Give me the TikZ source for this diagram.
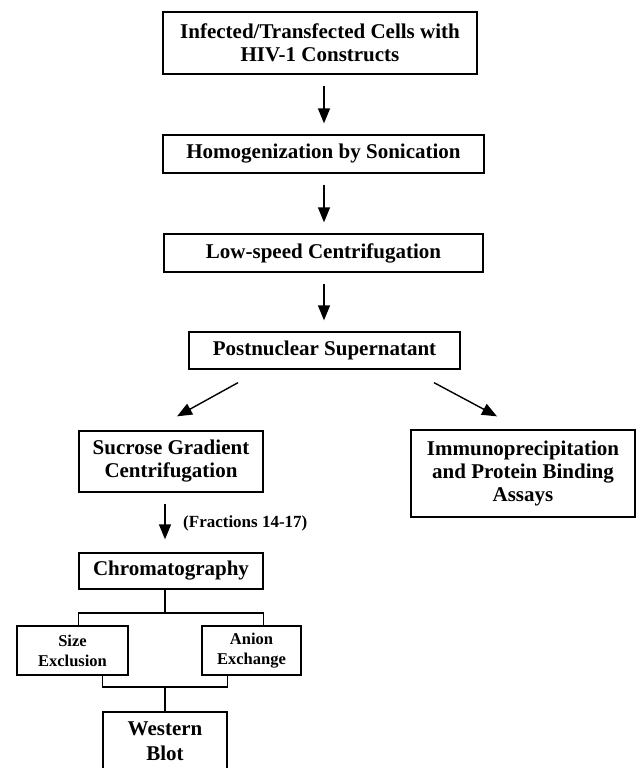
\documentclass[tikz,border=0pt]{standalone}
\usepackage{fontspec}
\setmainfont{Liberation Serif}
\usetikzlibrary{arrows.meta,calc}
\tikzset{
  box/.style={draw, line width=1.3pt, inner sep=0pt, align=center,
    font=\fontsize{21}{23}\selectfont\bfseries},
  smallbox/.style={box, font=\fontsize{16.5}{20}\selectfont\bfseries},
  arr/.style={line width=1.4pt, -{Triangle[length=15pt,width=12pt]},
    shorten <=11pt, shorten >=11pt},
  conn/.style={line width=1.1pt},
  lbl/.style={font=\fontsize{17}{20}\selectfont\bfseries, inner sep=0pt, anchor=west}
}
\begin{document}
\begin{tikzpicture}[x=1pt,y=-1pt]
\useasboundingbox (0,0) rectangle (637,768);
\clip (0,0) rectangle (637,768);
\node[box, minimum width=314pt, minimum height=62pt] (b1) at (320,43)
  {Infected/Transfected Cells with\\HIV-1 Constructs};
\node[box, minimum width=321pt, minimum height=38pt] (b2) at (323.5,154)
  {Homogenization by Sonication};
\node[box, minimum width=319pt, minimum height=38pt] (b3) at (323.5,253)
  {Low-speed Centrifugation};
\node[box, minimum width=271pt, minimum height=37pt] (b4) at (324.5,350.5)
  {Postnuclear Supernatant};
\node[box, minimum width=184pt, minimum height=61pt] (b5) at (171,461.5)
  {Sucrose Gradient\\Centrifugation};
\node[box, minimum width=224pt, minimum height=87pt] (b6) at (523,473.5)
  {Immunoprecipitation\\and Protein Binding\\Assays};
\node[box, minimum width=184pt, minimum height=36pt] (b7) at (171,571)
  {Chromatography};
\node[smallbox, minimum width=111pt, minimum height=49pt] (b8) at (72.5,650.5)
  {Size\\Exclusion};
\node[smallbox, minimum width=99pt, minimum height=49pt] (b9) at (251.5,650.5)
  {Anion\\Exchange};
\node[box, minimum width=124pt, minimum height=64pt] (b10) at (165,744)
  {};
\node[font=\fontsize{21}{25}\selectfont\bfseries, align=center, inner sep=0pt] (wt) at (165,741)
  {Western\\Blot};
\node[lbl] (frac) at (183,523) {(Fractions 14-17)};

\draw[arr] (b1.south -| 324,0) -- (b2.north -| 324,0);
\draw[arr] (b2.south -| 324,0) -- (b3.north -| 324,0);
\draw[arr] (b3.south -| 324,0) -- (b4.north -| 324,0);
\draw[arr, shorten <=0pt, shorten >=0pt] ($(b4.south)+(-86.5,13)$) -- ($(b5.north)+(6,-14)$);
\draw[arr, shorten <=0pt, shorten >=0pt] ($(b4.south)+(109.5,13)$) -- ($(b6.north)+(-26,-13)$);
\draw[arr, shorten >=13pt] (b5.south -| 165,0) -- (b7.north -| 165,0);

\coordinate (j1) at (165,613);
\coordinate (j2) at (165,687);
\draw[conn] (b7.south -| j1) -- (j1);
\draw[conn] (b8.north -| b7.west) |- (j1) -| (b9.north -| b7.east);
\draw[conn] (b8.south -| b10.west) |- (j2) -| (b9.south -| b10.east);
\draw[conn] (j2) -- (b10.north -| j2);
\end{tikzpicture}
\end{document}
